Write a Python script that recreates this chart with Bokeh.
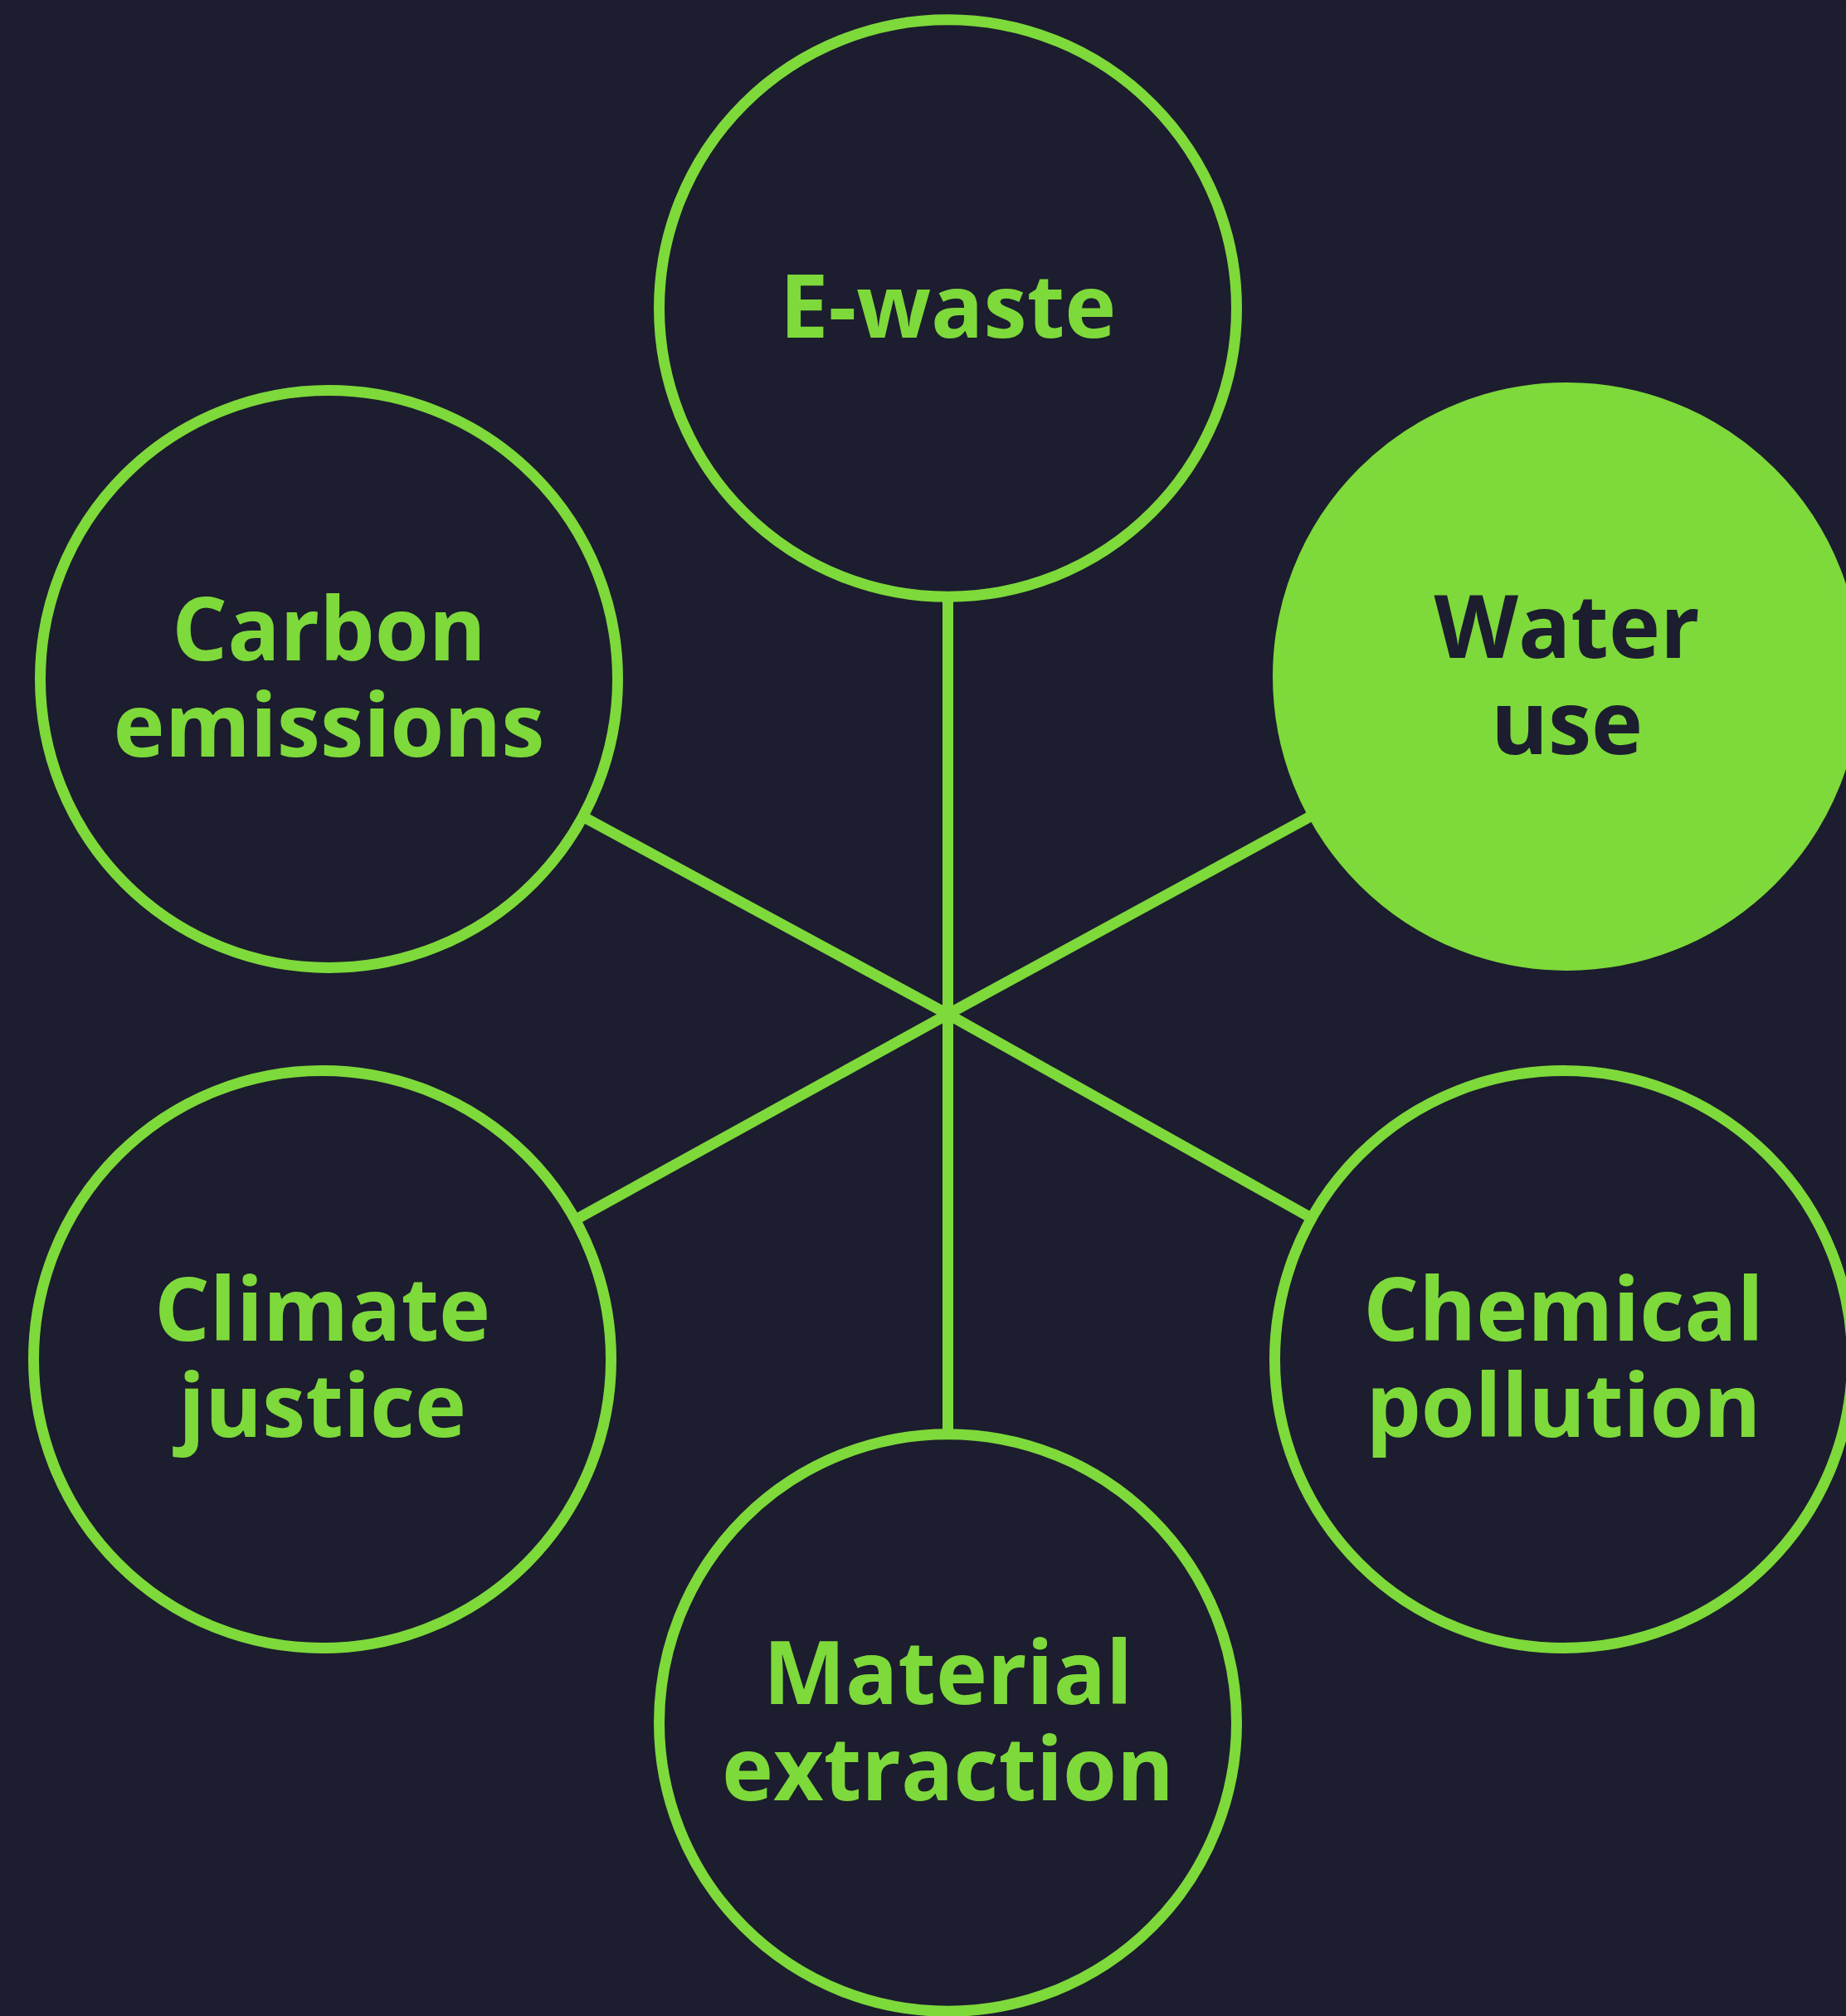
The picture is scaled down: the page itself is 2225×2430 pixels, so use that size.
from bokeh.plotting import figure
from bokeh.models import Range1d, ColumnDataSource
from bokeh.core.properties import value
from bokeh.embed import file_html
from bokeh.resources import INLINE

# ---- data ----
node_labels = [["E-waste"], ["Water", "use"], ["Chemical", "pollution"],
               ["Material", "extraction"], ["Climate", "justice"], ["Carbon", "emissions"]]
node_x = [1142, 1888, 1884, 1142, 388, 396]
node_y = [371, 815, 1638, 2076, 1638, 818]
highlighted = [False, True, False, False, False, False]
hub_x = 1142
hub_y = 1222

BG = "#1c1d2e"
GREEN = "#7ed93b"
R = 348
LW = 13
FONT_PX = 105
CAP = 77
LINE_H = 116
TEXT_DY = -44

W, H = 2225, 2430
p = figure(width=W, height=H, output_backend="svg", toolbar_location=None,
           x_range=Range1d(0, W), y_range=Range1d(H, 0),
           min_border=0, background_fill_color=BG, border_fill_color=BG,
           outline_line_color=None)
p.axis.visible = False
p.grid.visible = False

# spokes
p.segment(x0=[hub_x] * len(node_x), y0=[hub_y] * len(node_y), x1=node_x, y1=node_y,
          line_color=GREEN, line_width=LW)

# circles
fills = [GREEN if h else BG for h in highlighted]
src = ColumnDataSource(dict(x=node_x, y=node_y, fill=fills))
p.circle(x="x", y="y", radius=R, source=src, fill_color="fill",
         line_color=GREEN, line_width=LW)

# labels
tx, ty, tt, tc = [], [], [], []
for lines, x, y, h in zip(node_labels, node_x, node_y, highlighted):
    n = len(lines)
    for i, s in enumerate(lines):
        tx.append(x)
        ty.append(y + CAP / 2 + (i - (n - 1) / 2) * LINE_H + TEXT_DY)
        tt.append(s)
        tc.append(BG if h else GREEN)
tsrc = ColumnDataSource(dict(x=tx, y=ty, text=tt, color=tc))
p.text(x="x", y="y", text="text", source=tsrc, text_color="color",
       text_font=value("Open Sans"), text_font_style="bold",
       text_font_size=f"{FONT_PX}px", text_align="center", text_baseline="alphabetic")

html = file_html(p, INLINE)
style = f"<style>html,body{{margin:0;padding:0;background:{BG};overflow:hidden;}}</style>"
html = html.replace("</head>", style + "</head>", 1)
open("out.html", "w").write(html)
